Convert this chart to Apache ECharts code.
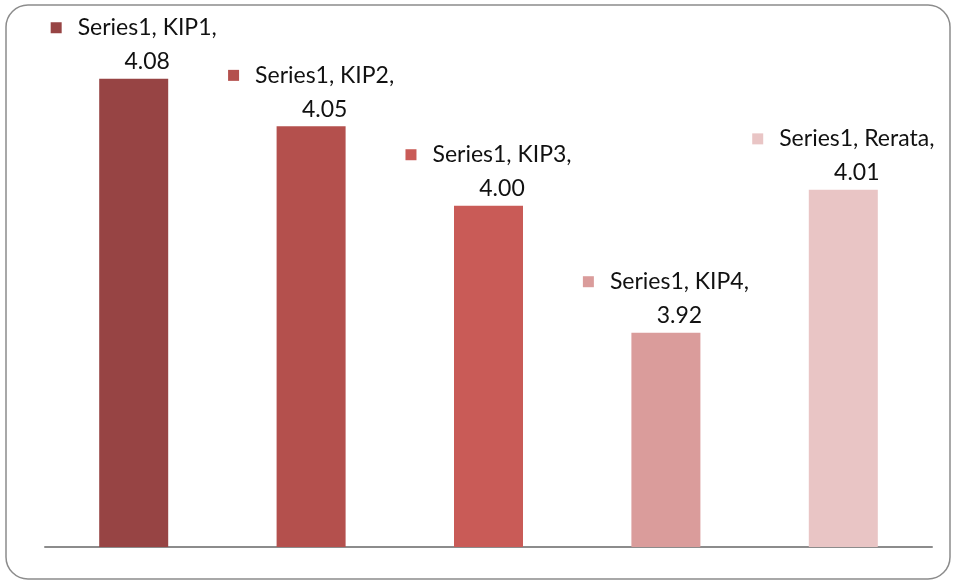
<!DOCTYPE html>
<html>
<head>
<meta charset="utf-8">
<script src="https://cdn.jsdelivr.net/npm/echarts@6/dist/echarts.min.js"></script>
<style>
  html, body { margin: 0; padding: 0; background: #fff; }
  #chart { width: 957px; height: 581px; }
</style>
</head>
<body>
<div id="chart"></div>
<script>
// data
var seriesName = 'Series1';
var categories = ['KIP1', 'KIP2', 'KIP3', 'KIP4', 'Rerata'];
var values = [4.08, 4.05, 4.00, 3.92, 4.01];
var barColors = ['#974444', '#B4504D', '#C95B57', '#DA9C9B', '#E9C5C5'];

var chart = echarts.init(document.getElementById('chart'));

function labelRich(color) {
	return {
		m: { width: 11, height: 11, backgroundColor: color },
		g: { width: 16 },
		sp: { width: 27 },
		t: { fontFamily: 'Lato', fontSize: 23, color: '#111', lineHeight: 34 }
	};
}

var option = {
	animation: false,
	graphic: [{
		type: 'rect',
		shape: { x: 6, y: 5, width: 944, height: 574, r: 22 },
		style: { fill: 'none', stroke: '#8c8c8c', lineWidth: 1.5 },
		silent: true
	}],
	grid: { left: 45, right: 25, top: 47, bottom: 34 },
	xAxis: {
		type: 'category',
		data: categories,
		axisLine: { lineStyle: { color: '#8c8c8c', width: 2 } },
		axisTick: { show: false },
		axisLabel: { show: false }
	},
	yAxis: {
		type: 'value',
		min: 3.785,
		max: 4.1,
		show: false,
		splitLine: { show: false }
	},
	series: [{
		name: seriesName,
		type: 'bar',
		barWidth: 69,
		data: values.map(function(v, i) {
			return {
				value: v,
				itemStyle: { color: barColors[i] },
				label: {
					show: true,
					position: 'top',
					distance: 0,
					align: 'center',
					formatter: '{m| }{g| }{t|' + seriesName + ', ' + categories[i] + ',}\n{sp| }{t|' + v.toFixed(2) + '}',
					rich: labelRich(barColors[i])
				}
			};
		})
	}]
};

chart.setOption(option);
</script>
</body>
</html>
